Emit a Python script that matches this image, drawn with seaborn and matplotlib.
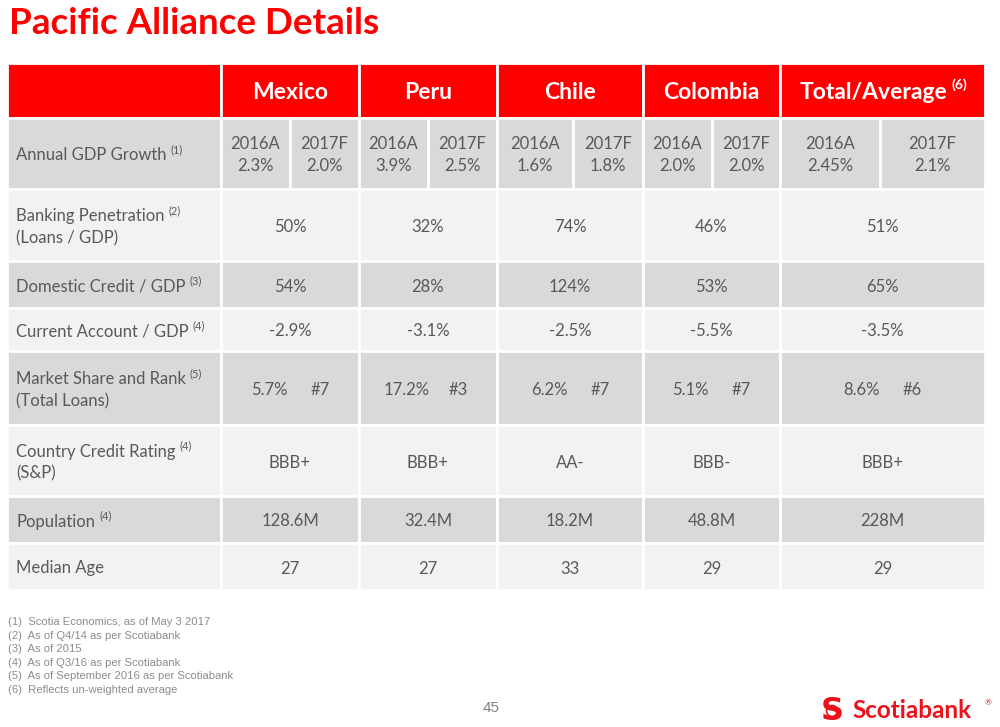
import matplotlib
matplotlib.use("Agg")
import matplotlib.pyplot as plt
from matplotlib.patches import Rectangle, Circle
import seaborn as sns

# ---- data ----
countries = ["Mexico", "Peru", "Chile", "Colombia", "Total/Average"]
gdp_2016 = ["2.3%", "3.9%", "1.6%", "2.0%", "2.45%"]
gdp_2017 = ["2.0%", "2.5%", "1.8%", "2.0%", "2.1%"]
banking = ["50%", "32%", "74%", "46%", "51%"]
domestic = ["54%", "28%", "124%", "53%", "65%"]
current = ["-2.9%", "-3.1%", "-2.5%", "-5.5%", "-3.5%"]
market_share = ["5.7%", "17.2%", "6.2%", "5.1%", "8.6%"]
market_rank = ["#7", "#3", "#7", "#7", "#6"]
rating = ["BBB+", "BBB+", "AA-", "BBB-", "BBB+"]
population = ["128.6M", "32.4M", "18.2M", "48.8M", "228M"]
median_age = ["27", "27", "33", "29", "29"]
row_labels = [
    ("Annual GDP Growth", "", "(1)"),
    ("Banking Penetration", "(Loans / GDP)", "(2)"),
    ("Domestic Credit / GDP", "", "(3)"),
    ("Current Account / GDP", "", "(4)"),
    ("Market Share and Rank", "(Total Loans)", "(5)"),
    ("Country Credit Rating", "(S&P)", "(4)"),
    ("Population", "", "(4)"),
    ("Median Age", "", ""),
]
footnotes = [
    "(1)  Scotia Economics, as of May 3 2017",
    "(2)  As of Q4/14 as per Scotiabank",
    "(3)  As of 2015",
    "(4)  As of Q3/16 as per Scotiabank",
    "(5)  As of September 2016 as per Scotiabank",
    "(6)  Reflects un-weighted average",
]

sns.set_theme(style="white")
plt.rcParams["font.family"] = ["Lato", "DejaVu Sans"]

RED = "#FF0000"
DARK = "#D9D9D9"
LIGHT = "#F2F2F2"
TXT = "#595959"

fig = plt.figure(figsize=(10, 7.27), dpi=100)
ax = fig.add_axes([0, 0, 1, 1])
ax.set_xlim(0, 1000)
ax.set_ylim(727, 0)
ax.axis("off")

# layout
col_edges = [7, 221, 359, 497, 643, 780, 985]
sub_split = [290, 428, 573, 712, 880]
row_edges = [63, 117.5, 189, 261, 308, 351, 425, 496, 543, 590]
row_fill = [RED, DARK, LIGHT, DARK, LIGHT, DARK, LIGHT, DARK, LIGHT]

# cell backgrounds
for r in range(len(row_edges) - 1):
    y0, y1 = row_edges[r], row_edges[r + 1]
    for c in range(len(col_edges) - 1):
        x0, x1 = col_edges[c], col_edges[c + 1]
        if r == 1 and c >= 1:
            s = sub_split[c - 1]
            for a, b in [(x0, s), (s, x1)]:
                ax.add_patch(Rectangle((a, y0), b - a, y1 - y0, facecolor=row_fill[r],
                                       edgecolor="white", linewidth=2))
        else:
            ax.add_patch(Rectangle((x0, y0), x1 - x0, y1 - y0, facecolor=row_fill[r],
                                   edgecolor="white", linewidth=2))

# title
ax.text(9, 24, "Pacific Alliance Details", color=RED, fontsize=26.5, fontweight="bold",
        va="center", ha="left")

fig.canvas.draw()
renderer = fig.canvas.get_renderer()


def text_with_sup(x, y, main, sup, ha, color, size, weight="normal", supsize=None):
    t = ax.text(x, y, main, color=color, fontsize=size, fontweight=weight, va="center", ha=ha)
    if sup:
        ss = supsize or size * 0.65
        inv = ax.transData.inverted()
        if ha == "center":
            sup_t = ax.text(0, 0, sup, fontsize=ss, fontweight=weight)
            sbb = sup_t.get_window_extent(renderer=renderer)
            sup_t.remove()
            shift = (sbb.width + 3) / 2
            t.set_x(x - shift)
        bb = t.get_window_extent(renderer=renderer)
        xr = inv.transform((bb.x1, 0))[0]
        ax.text(xr + 4, y - size * 0.45, sup, color=color, fontsize=ss,
                fontweight=weight, va="center", ha="left")
    return t


# header
hy = (row_edges[0] + row_edges[1]) / 2 + 2
for c, name in enumerate(countries):
    cx = (col_edges[c + 1] + col_edges[c + 2]) / 2
    sup = "(6)" if name == "Total/Average" else ""
    text_with_sup(cx, hy, name, sup, "center", "white", 16.5, "bold", supsize=10)

FS = 12
DY = 2  # small downward offset for visual centring
# row labels
for r, (l1, l2, sup) in enumerate(row_labels):
    y0, y1 = row_edges[r + 1], row_edges[r + 2]
    cy = (y0 + y1) / 2 + DY
    if l2:
        text_with_sup(16, cy - 11, l1, sup, "left", TXT, FS)
        ax.text(16, cy + 11, l2, color=TXT, fontsize=FS, va="center", ha="left")
    else:
        text_with_sup(16, cy, l1, sup, "left", TXT, FS)

centers = [(col_edges[c + 1] + col_edges[c + 2]) / 2 for c in range(5)]

# GDP row
cy = (row_edges[1] + row_edges[2]) / 2 + DY
for c in range(5):
    x0, x1 = col_edges[c + 1], col_edges[c + 2]
    s = sub_split[c]
    for (a, b), lab, val in [((x0, s), "2016A", gdp_2016[c]), ((s, x1), "2017F", gdp_2017[c])]:
        m = (a + b) / 2
        ax.text(m, cy - 11, lab, color=TXT, fontsize=FS, ha="center", va="center")
        ax.text(m, cy + 11, val, color=TXT, fontsize=FS, ha="center", va="center")

simple_rows = {2: banking, 3: domestic, 4: current, 6: rating, 7: population, 8: median_age}
for r, vals in simple_rows.items():
    cy = (row_edges[r] + row_edges[r + 1]) / 2 + DY
    for c in range(5):
        ax.text(centers[c], cy, vals[c], color=TXT, fontsize=FS, ha="center", va="center")

# market share row
cy = (row_edges[5] + row_edges[6]) / 2 + DY
for c in range(5):
    ax.text(centers[c] - 21, cy, market_share[c], color=TXT, fontsize=FS, ha="center", va="center")
    ax.text(centers[c] + 30, cy, market_rank[c], color=TXT, fontsize=FS, ha="center", va="center")

# footnotes
for i, f in enumerate(footnotes):
    ax.text(8, 622 + i * 13.6, f, color="#8C8C8C", fontsize=8.1, family="Liberation Sans",
            ha="left", va="center")

# page number
ax.text(491, 708, "45", color="#7F7F7F", fontsize=11, ha="center", va="center",
        family="Liberation Sans")

# logo
ax.text(832, 711, "S", color="#EC111A", fontsize=23, fontweight="heavy", ha="center",
        va="center", family="DejaVu Sans")
ax.add_patch(Circle((832, 711), 5.5, facecolor="white", edgecolor="#EC111A", linewidth=1.2))
ax.text(852, 711, "Scotiabank", color="#EC111A", fontsize=17.5, fontweight="bold",
        ha="left", va="center", family="Lato")
ax.text(988, 703, "®", color="#EC111A", fontsize=6, ha="center", va="center")

fig.savefig("out.png", dpi=100, facecolor="white")
